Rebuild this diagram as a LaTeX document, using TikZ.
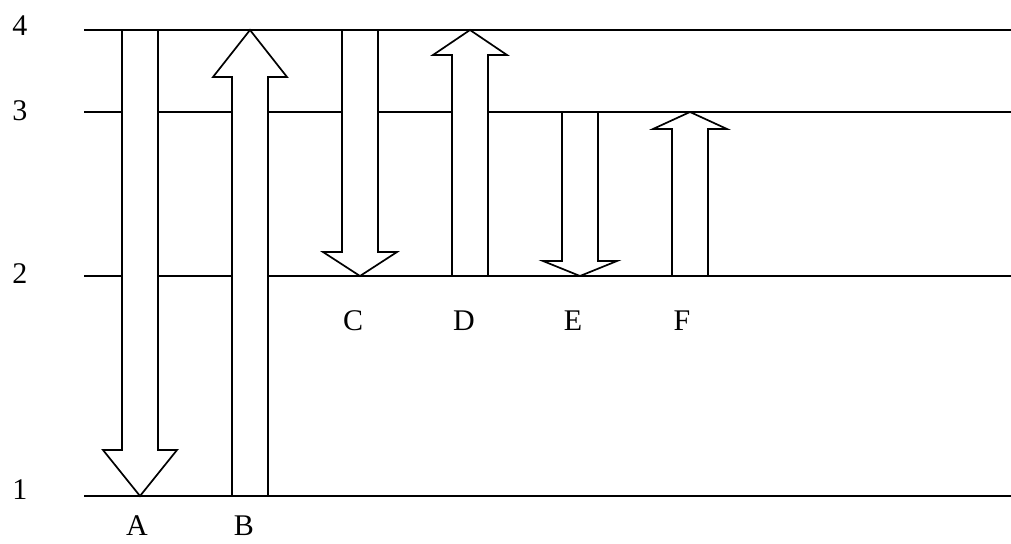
\documentclass[tikz,border=0pt]{standalone}
\usepackage{fontspec}
\setmainfont{Liberation Serif}
\newcommand\downarr[5]{% name, x, ytop, ytip, headlen
  \draw[arr] (#2-18,#3) -- (#2-18,#4-#5) -- (#2-37,#4-#5) -- (#2,#4) -- (#2+37,#4-#5) -- (#2+18,#4-#5) -- (#2+18,#3) -- cycle;
  \coordinate (#1) at (#2,#4);}
\newcommand\uparr[5]{% name, x, ybot, ytip, headlen
  \draw[arr] (#2-18,#3) -- (#2-18,#4+#5) -- (#2-37,#4+#5) -- (#2,#4) -- (#2+37,#4+#5) -- (#2+18,#4+#5) -- (#2+18,#3) -- cycle;
  \coordinate (#1) at (#2,#4);}
\begin{document}
\begin{tikzpicture}[x=1pt,y=-1pt,
  level/.style={line width=2.3pt},
  arr/.style={draw=black,fill=white,line width=1.7pt,line join=miter},
  lab/.style={font=\fontsize{30}{31}\selectfont,inner sep=0pt}]
\useasboundingbox (0,0) rectangle (1011,543);
% levels
\coordinate (l4a) at (84,30);  \coordinate (l4b) at (1011,30);
\coordinate (l3a) at (84,112); \coordinate (l3b) at (1011,112);
\coordinate (l2a) at (84,276); \coordinate (l2b) at (1011,276);
\coordinate (l1a) at (84,496); \coordinate (l1b) at (1011,496);
\draw[level] (l4a) -- (l4b);
\draw[level] (l3a) -- (l3b);
\draw[level] (l2a) -- (l2b);
\draw[level] (l1a) -- (l1b);
\node[lab] (n4) at (20,26) {4};
\node[lab] (n3) at (20,111) {3};
\node[lab] (n2) at (20,274) {2};
\node[lab] (n1) at (20,490) {1};
% arrows
\downarr{aA}{140}{30}{496}{46}
\uparr{aB}{250}{496}{30}{47}
\downarr{aC}{360}{30}{276}{24}
\uparr{aD}{470}{276}{30}{25}
\downarr{aE}{580}{112}{276}{15}
\uparr{aF}{690}{276}{112}{17}
% labels
\node[lab] (tA) at (137,526) {A};
\node[lab] (tB) at (244,526) {B};
\node[lab] (tC) at (353,321) {C};
\node[lab] (tD) at (464,321) {D};
\node[lab] (tE) at (573,321) {E};
\node[lab] (tF) at (682,321) {F};
\end{tikzpicture}
\end{document}
